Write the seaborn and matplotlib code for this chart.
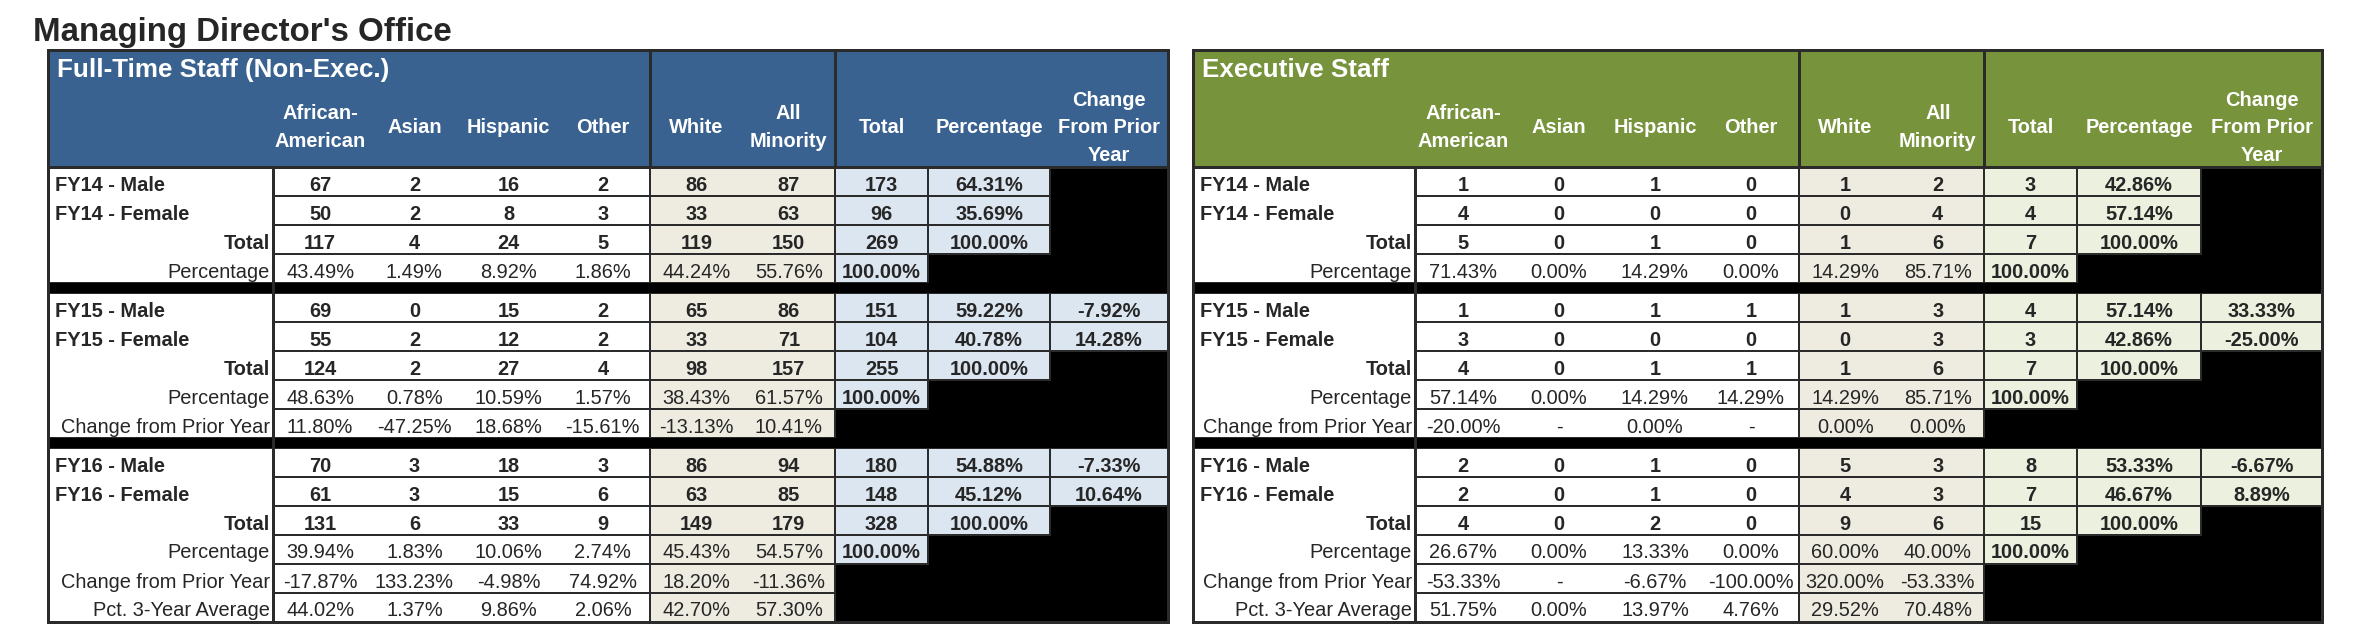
import matplotlib
matplotlib.use("Agg")
import matplotlib.pyplot as plt
from matplotlib.patches import Rectangle
import seaborn as sns

# ---------------- data ----------------
years = ["FY14", "FY15", "FY16"]
col_labels = ["African-\nAmerican", "Asian", "Hispanic", "Other", "White",
              "All\nMinority", "Total", "Percentage", "Change\nFrom Prior\nYear"]

# counts: African-American, Asian, Hispanic, Other, White, All Minority, Total
ft_male = [[67, 2, 16, 2, 86, 87, 173], [69, 0, 15, 2, 65, 86, 151], [70, 3, 18, 3, 86, 94, 180]]
ft_female = [[50, 2, 8, 3, 33, 63, 96], [55, 2, 12, 2, 33, 71, 104], [61, 3, 15, 6, 63, 85, 148]]
ft_total = [[117, 4, 24, 5, 119, 150, 269], [124, 2, 27, 4, 98, 157, 255], [131, 6, 33, 9, 149, 179, 328]]
ft_pct = [[43.49, 1.49, 8.92, 1.86, 44.24, 55.76, 100.00],
          [48.63, 0.78, 10.59, 1.57, 38.43, 61.57, 100.00],
          [39.94, 1.83, 10.06, 2.74, 45.43, 54.57, 100.00]]
ft_change = [[11.80, -47.25, 18.68, -15.61, -13.13, 10.41],      # FY15
             [-17.87, 133.23, -4.98, 74.92, 18.20, -11.36]]      # FY16
ft_avg3 = [44.02, 1.37, 9.86, 2.06, 42.70, 57.30]
ft_male_share = [64.31, 59.22, 54.88]
ft_female_share = [35.69, 40.78, 45.12]
ft_male_share_change = [-7.92, -7.33]
ft_female_share_change = [14.28, 10.64]

ex_male = [[1, 0, 1, 0, 1, 2, 3], [1, 0, 1, 1, 1, 3, 4], [2, 0, 1, 0, 5, 3, 8]]
ex_female = [[4, 0, 0, 0, 0, 4, 4], [3, 0, 0, 0, 0, 3, 3], [2, 0, 1, 0, 4, 3, 7]]
ex_total = [[5, 0, 1, 0, 1, 6, 7], [4, 0, 1, 1, 1, 6, 7], [4, 0, 2, 0, 9, 6, 15]]
ex_pct = [[71.43, 0.00, 14.29, 0.00, 14.29, 85.71, 100.00],
          [57.14, 0.00, 14.29, 14.29, 14.29, 85.71, 100.00],
          [26.67, 0.00, 13.33, 0.00, 60.00, 40.00, 100.00]]
ex_change = [[-20.00, None, 0.00, None, 0.00, 0.00],
             [-53.33, None, -6.67, -100.00, 320.00, -53.33]]
ex_avg3 = [51.75, 0.00, 13.97, 4.76, 29.52, 70.48]
ex_male_share = [42.86, 57.14, 53.33]
ex_female_share = [57.14, 42.86, 46.67]
ex_male_share_change = [33.33, -6.67]
ex_female_share_change = [-25.00, 8.89]

# ---------------- style ----------------
sns.set_theme(style="white")
plt.rcParams["font.family"] = ["Liberation Sans", "DejaVu Sans"]

PX = 0.72          # points per pixel at dpi 100
FS = 20 * PX
DARK = "#2b2b2b"
BEIGE = "#eeece1"


def pct(v):
    return "-" if v is None else f"{v:.2f}%"


def build_blocks(male, female, total, pcts, change, avg3, mshare, fshare, mchg, fchg):
    blocks = []
    for i, y in enumerate(years):
        rows = []
        rows.append((f"{y} - Male", "left",
                     [str(c) for c in male[i]] + [pct(mshare[i]), pct(mchg[i - 1]) if i else None],
                     [True] * 9))
        rows.append((f"{y} - Female", "left",
                     [str(c) for c in female[i]] + [pct(fshare[i]), pct(fchg[i - 1]) if i else None],
                     [True] * 9))
        rows.append(("Total", "right_bold",
                     [str(c) for c in total[i]] + [pct(mshare[i] + fshare[i]), None],
                     [True] * 9))
        rows.append(("Percentage", "right",
                     [pct(v) for v in pcts[i]] + [None, None],
                     [False] * 6 + [True, False, False]))
        if i >= 1:
            rows.append(("Change from Prior Year", "right",
                         [pct(v) for v in change[i - 1]] + [None] * 3, [False] * 9))
        if i == 2:
            rows.append(("Pct. 3-Year Average", "right",
                         [pct(v) for v in avg3] + [None] * 3, [False] * 9))
        blocks.append(rows)
    return blocks


def draw_table(ax, x0, label_w, widths, title, head_color, light, blocks):
    top, head_h, row_h, sep_h = 50, 117, 29, 10
    total_w = label_w + sum(widths)
    edges = [x0 + label_w]
    for w in widths:
        edges.append(edges[-1] + w)
    centers = [(edges[k] + edges[k + 1]) / 2 for k in range(9)]
    groups = [(0, 4, "white"), (4, 6, BEIGE), (6, 7, light), (7, 8, light), (8, 9, light)]

    # header band
    ax.add_patch(Rectangle((x0, top), total_w, head_h, facecolor=head_color, edgecolor="none"))
    ax.text(x0 + 9, top + 27, title, color="white", fontsize=26 * PX,
            fontweight="bold", va="baseline", ha="left")
    for k, lab in enumerate(col_labels):
        lines = lab.split("\n")
        n = len(lines)
        for j, ln in enumerate(lines):
            yb = top + 83 + (j - (n - 1) / 2) * 27.5
            ax.text(centers[k], yb, ln, color="white", fontsize=FS,
                    fontweight="bold", ha="center", va="baseline")
    for xe in (edges[4], edges[6]):
        ax.plot([xe, xe], [top, top + head_h], color=DARK, lw=3 * PX, solid_capstyle="butt")

    # body
    y = top + head_h
    for b, rows in enumerate(blocks):
        block_top = y
        for label, kind, cells, bolds in rows:
            for a, e, fill in groups:
                x_a, x_e = edges[a], edges[e]
                if cells[a] is None:
                    ax.add_patch(Rectangle((x_a, y), x_e - x_a, row_h,
                                           facecolor="black", edgecolor="none", zorder=2))
                else:
                    ax.add_patch(Rectangle((x_a, y), x_e - x_a, row_h, facecolor=fill,
                                           edgecolor=DARK, lw=2 * PX, zorder=3))
            for k in range(9):
                if cells[k] is not None:
                    ax.text(centers[k], y + 23.5, cells[k], fontsize=FS,
                            fontweight="bold" if bolds[k] else "normal",
                            ha="center", va="baseline", zorder=5)
            if kind == "left":
                ax.text(x0 + 7, y + 23.5, label, fontsize=FS, fontweight="bold",
                        ha="left", va="baseline", zorder=5)
            else:
                ax.text(x0 + label_w - 3, y + 23.5, label, fontsize=FS,
                        fontweight="bold" if kind == "right_bold" else "normal",
                        ha="right", va="baseline", zorder=5)
            y += row_h
        ax.add_patch(Rectangle((x0, block_top), label_w, y - block_top,
                               facecolor="white", edgecolor=DARK, lw=2 * PX, zorder=1))
        if b < len(blocks) - 1:
            ax.add_patch(Rectangle((x0, y), total_w, sep_h, facecolor="black",
                                   edgecolor="none", zorder=4))
            y += sep_h

    ax.plot([x0 + label_w, x0 + label_w], [top + head_h, y], color=DARK,
            lw=3 * PX, zorder=6, solid_capstyle="butt")
    ax.plot([x0, x0 + total_w], [top + head_h, top + head_h], color=DARK,
            lw=3 * PX, zorder=6)
    ax.add_patch(Rectangle((x0, top), total_w, y - top, facecolor="none",
                           edgecolor=DARK, lw=3 * PX, zorder=7))


ft_blocks = build_blocks(ft_male, ft_female, ft_total, ft_pct, ft_change, ft_avg3,
                         ft_male_share, ft_female_share, ft_male_share_change, ft_female_share_change)
ex_blocks = build_blocks(ex_male, ex_female, ex_total, ex_pct, ex_change, ex_avg3,
                         ex_male_share, ex_female_share, ex_male_share_change, ex_female_share_change)

fig = plt.figure(figsize=(23.62, 6.44), dpi=100)
ax = fig.add_axes([0, 0, 1, 1])
ax.set_xlim(0, 2362)
ax.set_ylim(644, 0)
ax.axis("off")

ax.text(33, 41, "Managing Director's Office", fontsize=33 * PX, fontweight="bold",
        ha="left", va="baseline")

draw_table(ax, 48, 225, [94.25] * 4 + [92.5, 92.5, 93, 122, 118],
           "Full-Time Staff (Non-Exec.)", "#3a6290", "#dce6f1", ft_blocks)
draw_table(ax, 1193, 222, [96] * 4 + [92.5, 92.5, 93, 124, 121],
           "Executive Staff", "#77933c", "#ebf1de", ex_blocks)

fig.savefig("out.png", dpi=100)
